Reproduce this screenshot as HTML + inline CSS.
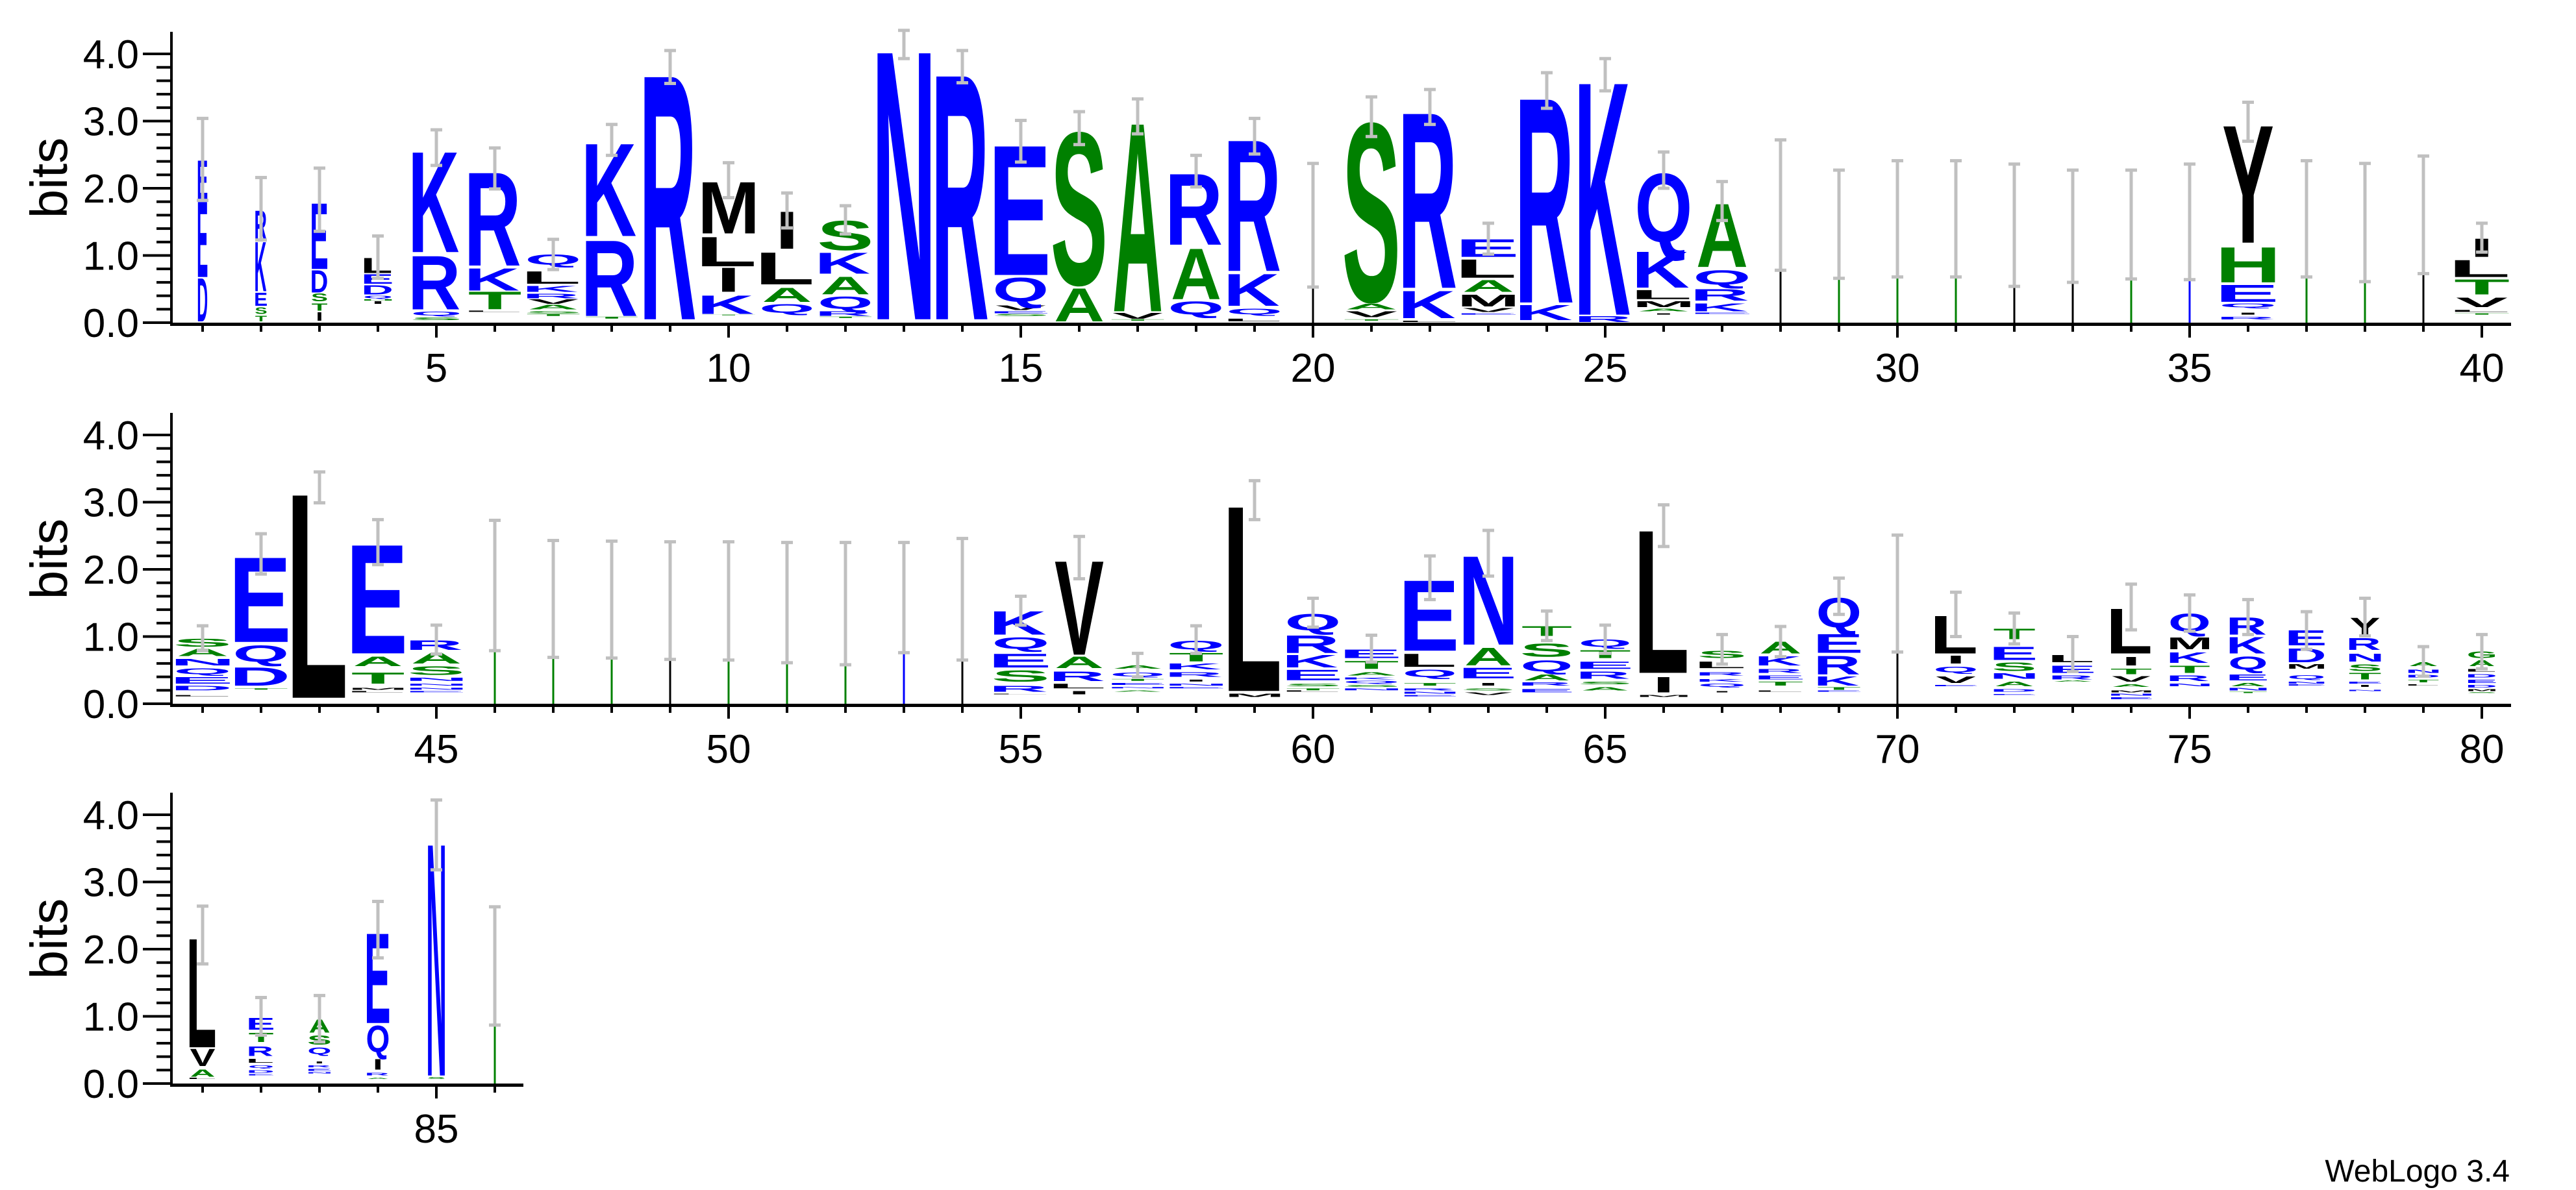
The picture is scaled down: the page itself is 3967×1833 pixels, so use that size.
<!DOCTYPE html>
<html><head><meta charset="utf-8">
<style>
html,body{margin:0;padding:0;background:#fff;}
svg{display:block;}
text{font-family:"Liberation Sans",Arial,sans-serif;}
</style></head>
<body>
<svg id="s" xmlns="http://www.w3.org/2000/svg" width="3967" height="1833" viewBox="0 0 3967 1833">
<rect width="3967" height="1833" fill="#fff"/>
<text x="3865" y="1820" font-size="48" text-anchor="end" fill="#000">WebLogo 3.4</text>
</svg>
<script>
(function(){
var Y0=[497,1084,1669], B=103.5;
var BLUE="#0000ff",GREEN="#008000",BLACK="#000000";
function colr(l){ if("KRDEQN".indexOf(l)>=0) return BLUE; if("STAGHCP".indexOf(l)>=0) return GREEN; return BLACK; }
var M={A:[0,.722],C:[.05,.64],D:[.075,.6],E:[.075,.54],F:[.075,.5],G:[.045,.68],H:[.075,.57],I:[.07,.14],K:[.075,.65],L:[.075,.51],M:[.07,.69],N:[.075,.57],P:[.075,.55],Q:[.04,.70],R:[.075,.63],S:[.04,.59],T:[.02,.57],V:[0,.667],W:[0,.944],Y:[0,.667]};
var D={
1:[14,1.82,3.04,"D.02,.68 E.68,1.84 E1.84,2.43"],
2:[17,1.23,2.16,"T.02,.1 S.13,.23 E.25,.45 K.47,1.23 R1.23,1.68"],
3:[23,1.36,2.30,"I.03,.16 T.18,.29 S.32,.44 D.45,.79 E.80,1.81"],
4:[41,.66,1.29,"I.28,.32 H.33,.35 Q.36,.40 D.42,.56 E.58,.73 L.74,.97"],
5:[71,2.34,2.87,"S.04,.08 Q.1,.16 R.20,1.02 K1.05,2.59"],
6:[77,1.99,2.60,"L.16,.18 T.20,.47 K.48,.82 R.85,2.28"],
7:[78,.79,1.24,"T.1,.13 S.14,.17 A.2,.27 V.28,.35 R.36,.43 K.46,.55 L.58,.77 Q.85,1.02"],
8:[77,2.49,2.95,"T.06,.09 R.10,1.26 K1.29,2.71"],
9:[77,3.56,4.05,"R.05,3.80"],
10:[79,1.86,2.38,"T.11,.12 K.13,.41 I.46,.83 L.84,1.29 M1.33,2.12"],
11:[77,1.41,1.93,"Q.14,.28 A.31,.53 L.57,1.06 I1.10,1.67"],
12:[77,1.32,1.74,"T.07,.09 R.1,.17 Q.19,.39 A.42,.69 K.73,1.05 S1.08,1.53"],
13:[79,3.93,4.35,"N.05,4.17"],
14:[78,3.57,4.05,"R.05,3.81"],
15:[78,2.39,3.01,"S.1,.13 E.14,.17 V.19,.26 Q.28,.68 E.71,2.70"],
16:[78,2.65,3.14,"A.02,.53 S.57,2.90"],
17:[78,2.81,3.33,"T.03,.05 V.06,.15 A.17,3.06"],
18:[78,2.02,2.49,"Q.10,.32 A.35,1.13 R1.16,2.25"],
19:[78,2.51,3.04,"L.02,.06 Q.12,.21 K.25,.74 R.77,2.78"],
20:[0,.53,2.37,BLACK],
21:[80,2.77,3.36,"T.03,.05 V.08,.17 A.20,.28 S.32,3.05"],
22:[80,2.95,3.47,"L.01,.03 K.07,.49 R.52,3.21"],
23:[80,1.02,1.48,"E.12,.14 V.16,.22 M.24,.42 A.46,.64 L.67,.95 E.98,1.25"],
24:[80,3.19,3.72,"K.04,.27 R.3,3.44"],
25:[78,3.45,3.93,"R.01,.10 K.12,3.69"],
26:[80,2.0,2.54,"I.12,.14 A.17,.21 M.23,.32 L.35,.49 K.52,1.07 Q1.11,2.25"],
27:[80,1.52,2.10,"E.13,.15 K.17,.29 R.33,.50 Q.55,.79 A.83,1.80"],
28:[0,.78,2.72,BLACK],29:[0,.66,2.27,GREEN],30:[0,.68,2.41,GREEN],31:[0,.68,2.41,GREEN],
32:[0,.54,2.36,BLACK],33:[0,.60,2.27,BLACK],34:[0,.65,2.27,GREEN],35:[0,.64,2.36,BLUE],
36:[80,2.70,3.28,"R.05,.09 I.12,.15 Q.22,.28 E.31,.57 H.60,1.14 Y1.19,2.99"],
37:[0,.68,2.41,GREEN],38:[0,.61,2.37,GREEN],39:[0,.73,2.48,BLACK],
40:[80,1.05,1.48,"T.12,.14 L.16,.19 V.23,.38 T.42,.65 L.68,.94 I.98,1.26"],
41:[80,.79,1.16,"L.11,.13 D.20,.27 E.30,.40 Q.43,.53 N.57,.67 A.71,.82 S.85,.97"],
42:[78,1.93,2.53,"T.21,.23 D.27,.55 Q.60,.87 E.92,2.22"],
43:[80,2.99,3.45,"L.09,3.22"],
44:[77,2.07,2.74,"L.17,.19 M.21,.24 T.30,.47 A.56,.71 E.75,2.42"],
45:[78,.74,1.17,"E.17,.19 N.21,.24 N.27,.30 N.34,.39 S.43,.56 A.60,.76 R.80,.95"],
46:[0,.79,2.73,GREEN],47:[0,.69,2.43,GREEN],48:[0,.68,2.42,GREEN],49:[0,.66,2.41,BLACK],
50:[0,.65,2.41,GREEN],51:[0,.61,2.40,GREEN],52:[0,.58,2.40,GREEN],53:[0,.76,2.40,BLUE],54:[0,.65,2.46,BLACK],
55:[80,1.17,1.60,"L.14,.15 R.18,.27 S.33,.50 E.54,.75 Q.80,.99 K1.03,1.39"],
56:[76,1.86,2.49,"I.14,.19 L.23,.30 R.34,.49 A.53,.70 V.73,2.17"],
57:[77,.40,.75,"A.18,.20 N.23,.25 E.28,.31 T.34,.37 Q.40,.46 A.52,.57"],
58:[79,.75,1.16,"E.23,.25 N.27,.30 I.33,.36 R.40,.47 K.51,.60 T.63,.76 Q.80,.94"],
59:[77,2.74,3.32,"M.10,.15 L.19,3.03"],
60:[78,1.14,1.57,"L.18,.2 T.2,.23 S.26,.3 E.35,.51 K.54,.73 R.76,1.03 Q1.07,1.34"],
61:[79,.62,1.02,"N.2,.23 S.25,.28 Q.30,.34 K.36,.39 A.42,.47 T.52,.64 E.68,.81"],
62:[76,1.55,2.20,"E.11,.13 N.15,.18 R.2,.23 T.27,.31 Q.39,.51 L.55,.75 E.79,1.87"],
63:[74,1.90,2.58,"V.13,.17 S.2,.23 I.27,.31 E.38,.54 A.57,.84 N.88,2.24"],
64:[73,.94,1.38,"E.17,.22 R.27,.32 A.35,.44 Q.47,.65 S.70,.90 T1.01,1.16"],
65:[74,.75,1.17,"A.2,.25 S.29,.33 R.37,.48 E.52,.63 T.68,.80 Q.84,.96"],
66:[72,2.34,2.96,"M.10,.13 I.17,.41 L.46,2.65"],
67:[67,.59,1.03,"I.17,.19 Q.25,.30 K.33,.37 R.42,.47 L.53,.63 S.68,.79"],
68:[65,.70,1.15,"L.18,.2 T.27,.33 E.36,.42 R.46,.52 K.57,.71 A.75,.93"],
69:[63,1.33,1.87,"E.18,.20 T.21,.25 K.27,.41 R.44,.72 E.76,1.05 Q1.10,1.59"],
70:[0,.77,2.51,BLACK],
71:[62,1.0,1.66,"E.26,.28 V.31,.41 Q.46,.55 I.60,.72 L.75,1.33"],
72:[61,.89,1.35,"E.13,.14 D.18,.22 A.26,.33 N.37,.45 S.49,.62 E.65,.85 T.96,1.12"],
73:[61,.48,1.0,"A.33,.35 R.36,.42 E.46,.57 L.62,.73"],
74:[60,1.10,1.78,"E.07,.1 N.12,.15 M.17,.2 A.25,.29 V.33,.41 T.44,.52 I.57,.70 L.75,1.44"],
75:[59,1.08,1.62,"N.26,.3 R.34,.42 T.46,.57 K.61,.77 M.81,.99 Q1.05,1.35"],
76:[55,1.03,1.55,"T.16,.18 N.2,.24 A.26,.31 E.35,.44 Q.49,.71 K.75,1.0 R1.03,1.29"],
77:[53,.81,1.37,"E.27,.29 N.3,.33 Q.36,.42 M.52,.59 D.62,.83 E.87,1.10"],
78:[47,1.01,1.57,"N.19,.21 I.25,.28 E.30,.33 T.36,.46 S.49,.59 N.63,.75 R.80,.98 Y1.02,1.29"],
79:[45,.41,.85,"L.27,.29 T.32,.36 D.39,.43 N.46,.51 A.56,.62"],
80:[41,.52,1.03,"S.16,.17 M.19,.22 D.24,.28 E.31,.36 D.39,.44 L.48,.52 A.56,.65 G.68,.78"],
81:[39,1.78,2.64,"L.07,.09 A.10,.21 V.26,.52 L.54,2.21"],
82:[36,.72,1.28,"E.12,.14 D.16,.2 Q.23,.27 L.31,.37 R.41,.56 T.62,.76 E.80,.98"],
83:[33,.62,1.31,"N.15,.17 E.19,.22 R.24,.27 I.3,.33 Q.43,.54 S.58,.72 A.76,.96"],
84:[33,1.87,2.71,"A.07,.09 R.12,.16 I.21,.37 Q.43,.87 E.90,2.28"],
85:[25,3.18,4.22,"S.07,.1 N.12,3.68"],
86:[0,.87,2.63,GREEN]
};
var o=[];
// axes
var rowsEnd=[3867,3867,806], rowsN=[40,40,6];
var ylab=["0.0","1.0","2.0","3.0","4.0"];
var xlabs=[[["5",5],["10",10],["15",15],["20",20],["25",25],["30",30],["35",35],["40",40]],
 [["45",5],["50",10],["55",15],["60",20],["65",25],["70",30],["75",35],["80",40]],
 [["85",5]]];
for(var r=0;r<3;r++){
  var y0=Y0[r], ya=y0+2;
  o.push('<rect x="262" y="'+(y0-448)+'" width="4" height="'+(450+2)+'" fill="#000"/>');
  o.push('<rect x="262" y="'+(ya-2)+'" width="'+(rowsEnd[r]-262)+'" height="5" fill="#000"/>');
  for(var k=0;k<=20;k++){
    var ty=y0-k*0.2*B;
    var major=(k%5==0);
    var x1=major?220:241;
    o.push('<rect x="'+x1+'" y="'+(ty-2)+'" width="'+(264-x1)+'" height="4" fill="#000"/>');
    if(major) o.push('<text x="214" y="'+(ty+22)+'" font-size="62" text-anchor="end" fill="#000">'+ylab[k/5]+'</text>');
  }
  for(var i=1;i<=rowsN[r];i++){
    var cx=312+(i-1)*90, mj=(i%5==0);
    o.push('<rect x="'+(cx-2)+'" y="'+(ya+2)+'" width="4" height="'+(mj?19:10)+'" fill="#000"/>');
  }
  xlabs[r].forEach(function(t){
    o.push('<text x="'+(312+(t[1]-1)*90)+'" y="'+(y0+91)+'" font-size="62" text-anchor="middle" fill="#000">'+t[0]+'</text>');
  });
  o.push('<text transform="translate(103,'+(y0-223)+') rotate(-90)" font-size="80" text-anchor="middle" fill="#000">bits</text>');
}
// stacks
for(var p=1;p<=86;p++){
  var d=D[p]; if(!d) continue;
  var r=Math.floor((p-1)/40), cx=312+((p-1)%40)*90, y0=Y0[r];
  if(d[0]==0){
    var hh=((d[1]+d[2])/2)*B;
    o.push('<rect x="'+(cx-1.5)+'" y="'+(y0-hh)+'" width="3" height="'+hh+'" fill="'+d[3]+'"/>');
  } else {
    var w=d[0];
    d[3].split(" ").forEach(function(e){
      var l=e.charAt(0), a=e.substring(1).split(","), lo=parseFloat(a[0]), hi=parseFloat(a[1]);
      var h=(hi-lo)*B; if(h<0.8) h=0.8;
      var yb=y0-lo*B, m=M[l]||[.07,.6];
      var ww=w, xl=cx-w/2;
      if(l=="I"){ ww=w*0.24; xl=cx-ww/2; }
      var sx=ww/(m[1]*100), dy=0, ch=71.6;
      if(l=="Q"){ ch=78.1; dy=-6.5; }
      var sy=h/ch;
      o.push('<text x="'+(-m[0]*100).toFixed(1)+'" y="'+dy+'" font-size="100" font-weight="bold" fill="'+colr(l)+'" transform="translate('+xl.toFixed(1)+','+yb.toFixed(1)+') scale('+sx.toFixed(4)+','+sy.toFixed(4)+')">'+l+'</text>');
    });
  }
  // error bar
  var yl=y0-d[1]*B, yh=y0-d[2]*B;
  o.push('<rect x="'+(cx-2.5)+'" y="'+yh+'" width="5" height="'+(yl-yh)+'" fill="#c0c0c0"/>');
  o.push('<rect x="'+(cx-9)+'" y="'+(yh-2.5)+'" width="18" height="5" fill="#c0c0c0"/>');
  o.push('<rect x="'+(cx-9)+'" y="'+(yl-2.5)+'" width="18" height="5" fill="#c0c0c0"/>');
}
var s=document.getElementById("s");
s.insertAdjacentHTML("beforeend",o.join(""));
})();
</script>
</body></html>
